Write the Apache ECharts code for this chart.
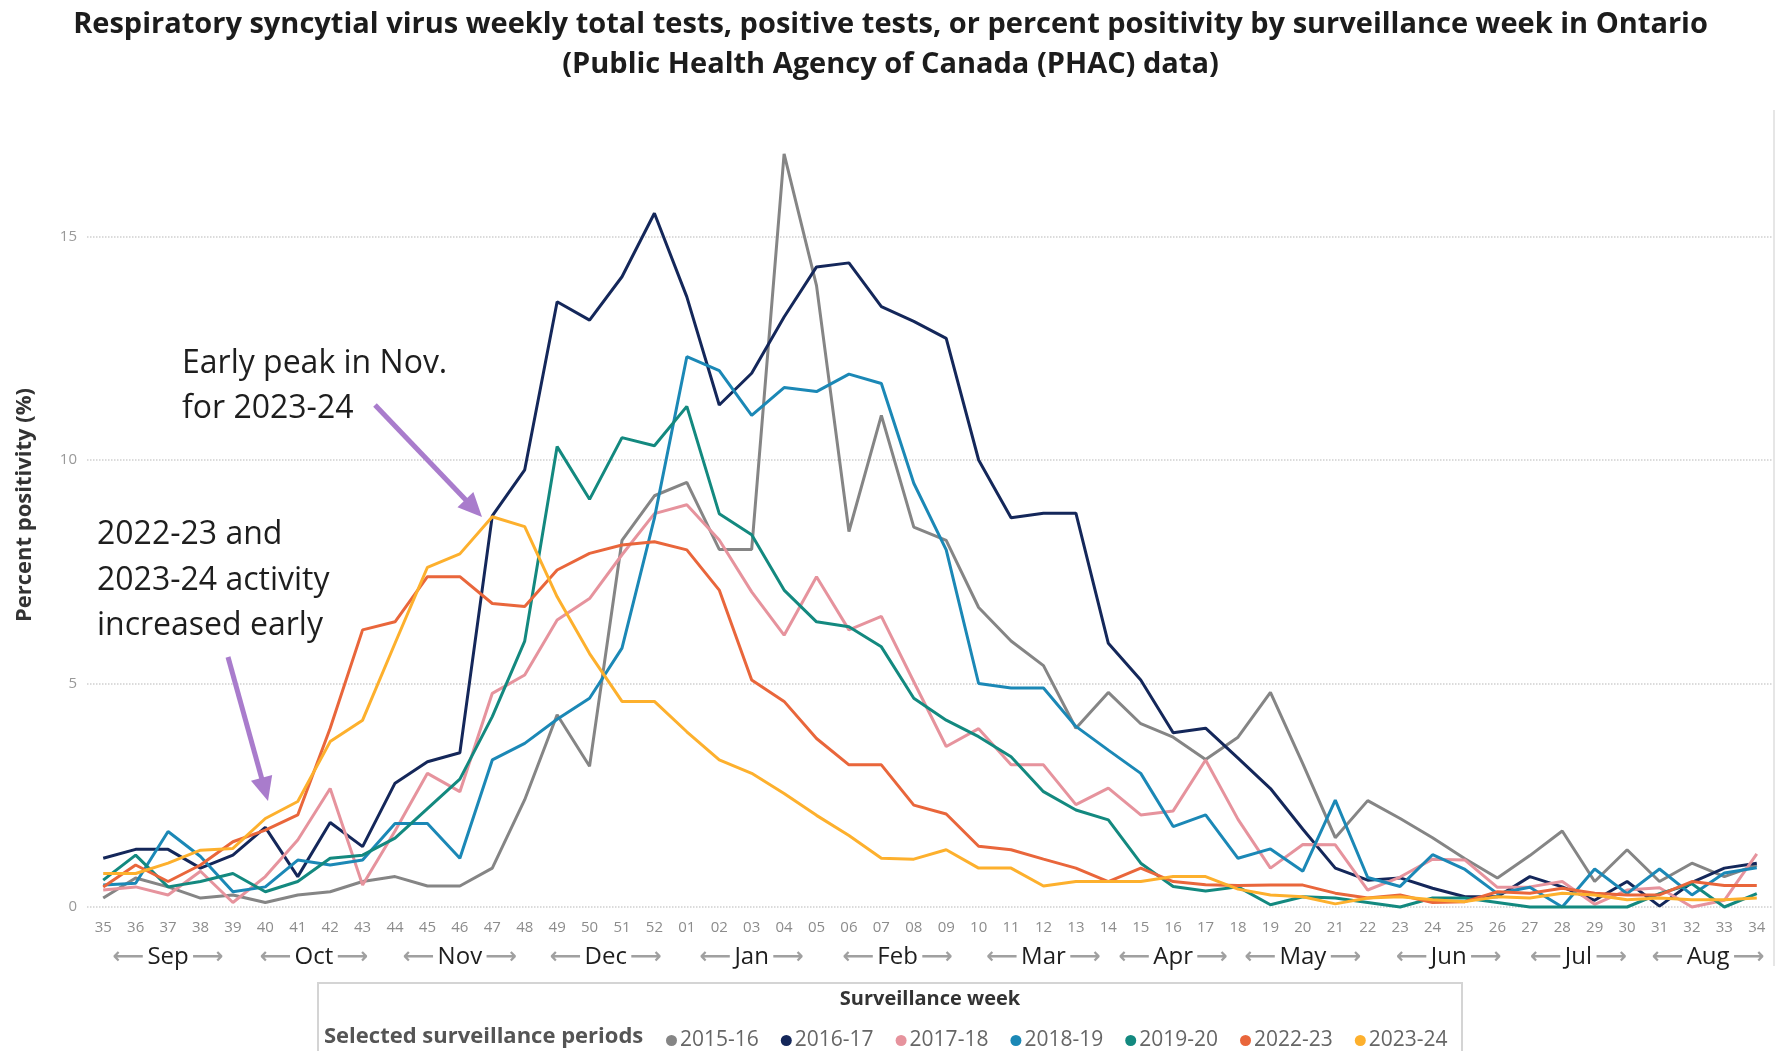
<!DOCTYPE html>
<html><head><meta charset="utf-8">
<script src="https://cdn.jsdelivr.net/npm/echarts@6/dist/echarts.min.js"></script>
<style>html,body{margin:0;padding:0;background:#fff}#c{width:1781px;height:1051px}</style>
</head><body><div id="c"></div>
<script>
const weeks = ['35','36','37','38','39','40','41','42','43','44','45','46','47','48','49','50','51','52',
  '01','02','03','04','05','06','07','08','09','10','11','12','13','14','15','16','17','18','19','20',
  '21','22','23','24','25','26','27','28','29','30','31','32','33','34'];

const s2015_16 = [0.2,0.65,0.45,0.2,0.27,0.1,0.27,0.34,0.57,0.68,0.47,0.47,0.87,2.4,4.3,3.15,8.2,9.2,
  9.5,8.0,8.0,16.85,13.9,8.4,11.0,8.5,8.2,6.7,5.95,5.4,4.0,4.8,4.1,3.8,3.3,3.8,4.8,3.2,
  1.55,2.38,1.98,1.55,1.08,0.65,1.15,1.7,0.57,1.28,0.57,0.98,0.68,0.94];
const s2016_17 = [1.09,1.29,1.29,0.87,1.16,1.78,0.68,1.89,1.35,2.77,3.25,3.45,8.75,9.78,13.54,13.13,14.1,15.52,
  13.65,11.23,11.94,13.2,14.32,14.41,13.43,13.1,12.72,10.0,8.71,8.81,8.81,5.9,5.08,3.9,4.0,3.33,2.65,1.74,
  0.87,0.6,0.65,0.42,0.23,0.23,0.68,0.45,0.15,0.57,0.02,0.55,0.87,0.98];
const s2017_18 = [0.38,0.45,0.27,0.8,0.1,0.68,1.5,2.65,0.49,1.7,2.99,2.58,4.78,5.19,6.42,6.9,7.88,8.8,
  9.0,8.21,7.05,6.08,7.39,6.2,6.5,5.04,3.59,3.99,3.18,3.18,2.29,2.66,2.06,2.15,3.29,1.96,0.87,1.4,
  1.39,0.38,0.67,1.07,1.05,0.44,0.45,0.57,0.06,0.38,0.43,0.0,0.15,1.19];
const s2018_19 = [0.49,0.53,1.69,1.13,0.34,0.45,1.05,0.94,1.05,1.87,1.87,1.09,3.29,3.66,4.2,4.67,5.79,8.7,
  12.31,12.0,11.0,11.62,11.53,11.92,11.71,9.48,7.99,5.0,4.9,4.9,4.04,3.51,2.99,1.8,2.06,1.09,1.3,0.8,
  2.39,0.66,0.46,1.17,0.84,0.3,0.44,0.0,0.85,0.3,0.85,0.27,0.76,0.88];
const s2019_20 = [0.6,1.16,0.45,0.57,0.75,0.34,0.57,1.09,1.16,1.54,2.2,2.86,4.26,5.95,10.3,9.12,10.5,10.32,
  11.2,8.8,8.33,7.09,6.38,6.27,5.82,4.67,4.18,3.81,3.36,2.58,2.17,1.95,0.98,0.46,0.36,0.45,0.05,0.23,
  0.2,0.1,0.0,0.2,0.2,0.1,0.0,0.0,0.0,0.0,0.3,0.52,0.0,0.3];
const s2022_23 = [0.45,0.94,0.57,0.94,1.46,1.72,2.06,4.0,6.2,6.38,7.39,7.39,6.79,6.72,7.54,7.91,8.1,8.17,
  7.99,7.09,5.08,4.6,3.77,3.18,3.18,2.28,2.08,1.36,1.28,1.07,0.87,0.57,0.87,0.57,0.5,0.48,0.49,0.49,
  0.31,0.2,0.27,0.1,0.12,0.34,0.31,0.42,0.31,0.27,0.27,0.57,0.48,0.48];
const s2023_24 = [0.75,0.75,0.98,1.27,1.31,1.98,2.36,3.7,4.18,5.9,7.6,7.9,8.73,8.51,6.94,5.67,4.6,4.6,
  3.92,3.29,2.99,2.54,2.05,1.6,1.09,1.07,1.28,0.87,0.87,0.47,0.57,0.57,0.57,0.68,0.68,0.4,0.27,0.23,
  0.07,0.2,0.23,0.16,0.12,0.23,0.2,0.31,0.27,0.16,0.2,0.16,0.16,0.2];

const seriesNames = ['2015-16','2016-17','2017-18','2018-19','2019-20','2022-23','2023-24'];
const seriesValues = [s2015_16,s2016_17,s2017_18,s2018_19,s2019_20,s2022_23,s2023_24];
const seriesColors = ['#858585','#14275a','#e6939d','#1b88b6','#13897f','#e9663b','#fdb02d'];

const monthNames = ['Sep','Oct','Nov','Dec','Jan','Feb','Mar','Apr','May','Jun','Jul','Aug'];
const monthFirstWeek = [0,5,9,14,18,23,27,32,35,40,44,48];
const monthLastWeek  = [4,8,13,17,22,26,31,34,39,43,47,51];

const FONT = 'Open Sans, Noto Sans, sans-serif';
const chart = echarts.init(document.getElementById('c'), null, {renderer:'canvas'});

const option = {
  animation:false,
  backgroundColor:'#ffffff',
  title:{
    text:'Respiratory syncytial virus weekly total tests, positive tests, or percent positivity by surveillance week in Ontario\n(Public Health Agency of Canada (PHAC) data)',
    left:'center', top:0,
    textStyle:{fontFamily:FONT, fontWeight:'bold', fontSize:29, lineHeight:40, color:'#1c1c1c'}
  },
  grid:{left:87, right:8, top:236.5, bottom:144, containLabel:false},
  legend:{
    data:seriesNames, left:661, top:1025, icon:'circle', itemWidth:11, itemHeight:11, itemGap:22,
    textStyle:{color:'#666', fontSize:21, fontFamily:FONT, padding:[0,0,0,-2]}
  },
  xAxis:{
    type:'category', data:weeks, boundaryGap:true,
    axisLine:{show:false}, axisTick:{show:false},
    axisLabel:{interval:0, color:'#8c8c8c', fontSize:15, margin:13, fontFamily:FONT},
    name:'Surveillance week', nameLocation:'middle', nameGap:82,
    nameTextStyle:{fontFamily:FONT, fontWeight:'bold', fontSize:20, color:'#333'}
  },
  yAxis:{
    type:'value', min:0, max:15, interval:5,
    axisLine:{show:false}, axisTick:{show:false},
    axisLabel:{color:'#999', fontSize:15, margin:10, fontFamily:FONT},
    splitLine:{show:true, lineStyle:{type:'dotted', color:'#cfcfcf', width:1.5}}
  },
  series: seriesNames.map((n,i)=>({
    name:n, type:'line', data:seriesValues[i], symbol:'none', showSymbol:false, clip:false,
    lineStyle:{width:3, color:seriesColors[i]}, itemStyle:{color:seriesColors[i]}, z:2+i
  }))
};
chart.setOption(option);

function arrow(x1,y1,x2,y2,color,w,hl,hw){
  const dx=x2-x1, dy=y2-y1, L=Math.hypot(dx,dy), ux=dx/L, uy=dy/L;
  const bx=x2-ux*hl, by=y2-uy*hl, px=-uy, py=ux;
  return [
    {type:'line', shape:{x1:x1,y1:y1,x2:bx+ux*2,y2:by+uy*2}, style:{stroke:color,lineWidth:w}, z:50},
    {type:'polygon', shape:{points:[[x2,y2],[bx+px*hw,by+py*hw],[bx-px*hw,by-py*hw]]}, style:{fill:color}, z:50}
  ];
}
const purple='#a97ccc';
const g = [];
const annFont = {fontFamily:FONT, fontSize:32, fill:'#1e1e1e'};
[['Early peak in Nov.',182,364],['for 2023-24',182,409],
 ['2022-23 and',97,535],['2023-24 activity',97,581],['increased early',97,626]].forEach(t=>{
  g.push({type:'text', z:60, style:Object.assign({text:t[0], x:t[1], y:t[2], verticalAlign:'middle', align:'left'}, annFont)});
});
g.push(...arrow(375,405,482,517,purple,5,24,11));
g.push(...arrow(228,657,268,801,purple,5,24,11));

g.push({type:'text', z:60, x:25, y:505, rotation:Math.PI/2,
  style:{text:'Percent positivity (%)', align:'center', verticalAlign:'middle', fontFamily:FONT, fontWeight:'bold', fontSize:22, fill:'#333'}});

monthNames.forEach((m,i)=>{
  const a = chart.convertToPixel({xAxisIndex:0}, monthFirstWeek[i]);
  const b = chart.convertToPixel({xAxisIndex:0}, monthLastWeek[i]);
  g.push({type:'text', z:60, x:(a+b)/2, y:957,
    style:{text:'{a|⟵} {m|'+m+'} {a|⟶}', align:'center', verticalAlign:'middle',
      rich:{a:{fontFamily:'DejaVu Sans', fontWeight:'bold', fontSize:22, fill:'#a0a0a0', color:'#a0a0a0', textStroke:'#a0a0a0', lineWidth:1.5},
            m:{fontFamily:FONT, fontSize:24, fill:'#1e1e1e', color:'#1e1e1e'}}}});
});

g.push({type:'rect', z:1, shape:{x:318, y:983, width:1144, height:90}, style:{fill:'none', stroke:'#d4d4d4', lineWidth:2}});
g.push({type:'text', z:60, x:324, y:1037, style:{text:'Selected surveillance periods', align:'left', verticalAlign:'middle', fontFamily:FONT, fontWeight:'bold', fontSize:22, fill:'#555'}});
g.push({type:'line', z:1, shape:{x1:1774,y1:110,x2:1774,y2:966}, style:{stroke:'#dedede', lineWidth:1.5}});

chart.setOption({graphic:{elements:g}});
</script></body></html>
